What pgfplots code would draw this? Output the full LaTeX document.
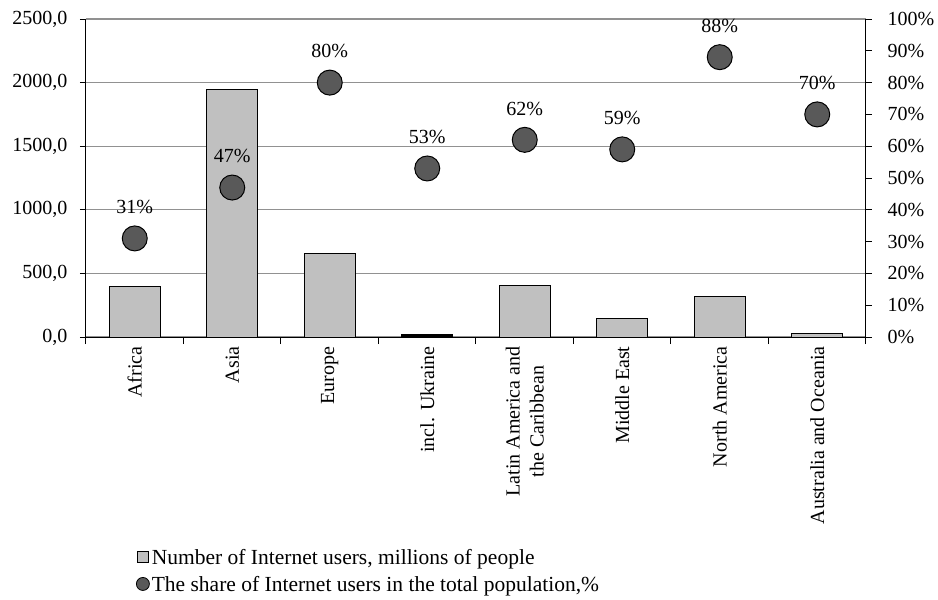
\documentclass[border=0pt]{standalone}
\usepackage{pgfplots}
\usepackage{pgfplotstable}
\pgfplotsset{compat=1.18}
\usepackage{fontspec}
\setmainfont{Liberation Serif}

\definecolor{barfill}{RGB}{192,192,192}
\definecolor{dotfill}{RGB}{89,89,89}
\definecolor{gridc}{RGB}{145,145,145}
\newcommand\fsz{\fontsize{20}{24}\selectfont}
\newcommand\lsz{\fontsize{21.5}{25}\selectfont}

% Internet users by region, millions of people
\pgfplotstableread{
x users
0 395
1 1942
2 660
4 404
5 149
6 320
7 27
}\users
\pgfplotstableread{
x users
3 20
}\ukraine
% Share of Internet users in the total population, %
\pgfplotstableread{
x share
0 31
1 47
2 80
3 53
4 62
5 59
6 88
7 70
}\share

\pgfplotsset{
  common/.style={
    scale only axis, width=780pt, height=318pt,
    xmin=-0.5, xmax=7.5,
    /pgf/number format/assume math mode=true,
    tick label style={font=\fsz},
    tick align=outside,
    major tick length=6pt,
    every axis plot/.append style={line width=1pt},
    axis line style={line width=1pt},
    every tick/.style={black, line width=1pt},
  }
}

\begin{document}
\begin{tikzpicture}
\useasboundingbox (-86pt,-263pt) rectangle (852pt,337pt);
\begin{axis}[
  common,
  ymin=0, ymax=2500,
  axis x line*=bottom, axis y line*=left,
  xtick={0,...,7},
  xticklabels={Africa, Asia, Europe, incl. Ukraine, {Latin America and\\the Caribbean}, Middle East, North America, Australia and Oceania},
  major x tick style={draw=none},
  minor xtick={-0.5,0.5,...,7.5},
  minor tick length=7pt,
  xticklabel style={rotate=90, anchor=east, align=center, font=\fsz},
  ytick={0,500,...,2500},
  yticklabel style={xshift=-9pt, /pgf/number format/.cd, fixed, fixed zerofill, precision=1, use comma, 1000 sep={}},
  ymajorgrids, grid style={gridc, line width=1.2pt},
  ybar, bar width=51pt, bar shift=0pt,
]
\addplot[fill=barfill, draw=black, line width=1pt] table[x=x, y=users]{\users};
\addplot[fill=black, draw=black, line width=1pt] table[x=x, y=users]{\ukraine};
\end{axis}
\begin{axis}[
  common,
  ymin=0, ymax=100,
  axis y line*=right, axis x line=none,
  ytick={0,10,...,100},
  yticklabel={\pgfmathprintnumber{\tick}\%},
  yticklabel style={xshift=12pt},
  legend style={at={(0.06,-0.655)}, anchor=north west, draw=none, fill=none,
    font=\lsz, row sep=6pt},
  legend cell align=left,
]
\addlegendimage{legend image code/.code={\draw[fill=barfill, draw=black, line width=0.8pt] (0pt,-5pt) rectangle (11pt,6pt);}}
\addlegendentry{Number of Internet users, millions of people}
\addplot[only marks, mark=*, mark size=12.5pt,
  mark options={fill=dotfill, draw=black, line width=1pt},
  nodes near coords={\pgfmathprintnumber{\pgfplotspointmeta}\%},
  point meta=y,
  every node near coord/.append style={font=\fsz, anchor=south, inner sep=0pt, yshift=24pt},
  legend image code/.code={\draw[fill=dotfill, draw=black, line width=0.8pt] (5.5pt,0.5pt) circle (6.5pt);},
] table[x=x, y=share]{\share};
\addlegendentry{The share of Internet users in the total population,\%}
\end{axis}
\end{tikzpicture}
\end{document}
